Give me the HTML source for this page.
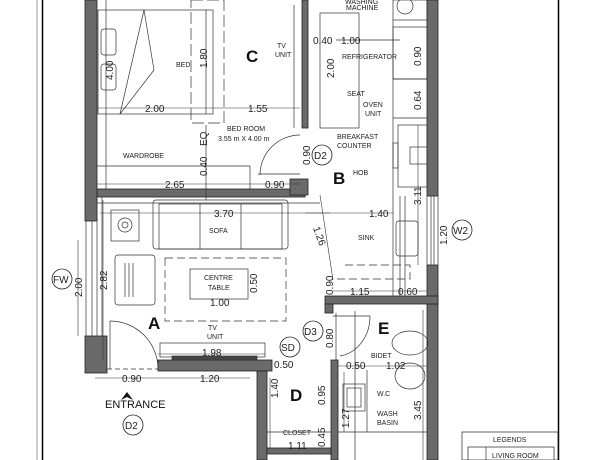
<!DOCTYPE html>
<html><head><meta charset="utf-8"><style>
body{margin:0;background:#fff;}
svg{display:block;font-family:"Liberation Sans",sans-serif;}
.t{font-size:7px;fill:#222}
.d{font-size:10px;fill:#222}
.b{font-size:17px;font-weight:bold;fill:#111}
</style></head><body>
<svg width="600" height="460" viewBox="0 0 600 460" xmlns="http://www.w3.org/2000/svg">
<g stroke="#000" fill="none">
<line x1="37" y1="0" x2="37" y2="460" stroke="#999" stroke-width="1"/>
<line x1="42.5" y1="0" x2="42.5" y2="460" stroke-width="1.5"/>
<line x1="558.5" y1="0" x2="558.5" y2="460" stroke-width="1.5"/>
</g>
<g fill="#6a6a6a" stroke="#222" stroke-width="0.8">
<rect x="85" y="0" width="12" height="221"/>
<rect x="97" y="189" width="208" height="8"/>
<rect x="302" y="0" width="6" height="128"/>
<rect x="427" y="0" width="11" height="196"/>
<rect x="427" y="265" width="11" height="195"/>
<rect x="85" y="336" width="22" height="37"/>
<rect x="158" y="360" width="114" height="11"/>
<rect x="257" y="371" width="10" height="89"/>
<rect x="325" y="296" width="113" height="8"/>
<rect x="325" y="304" width="8" height="9"/>
<rect x="331" y="360" width="7" height="100"/>
<rect x="267" y="448" width="64" height="6"/>
<rect x="290" y="179" width="18" height="16"/>
</g>
<g stroke="#333" fill="none" stroke-width="0.7">
<line x1="86" y1="221" x2="86" y2="336"/><line x1="92" y1="221" x2="92" y2="336"/><line x1="97" y1="197" x2="97" y2="336"/><line x1="102" y1="197" x2="102" y2="336"/>
<line x1="427" y1="196" x2="427" y2="265"/><line x1="431" y1="196" x2="431" y2="265"/><line x1="434" y1="196" x2="434" y2="265"/><line x1="438" y1="196" x2="438" y2="265"/>
<line x1="400" y1="196" x2="400" y2="296"/><line x1="405" y1="196" x2="405" y2="296"/>
<rect x="98" y="10" width="115" height="104"/>
<line x1="144" y1="10" x2="120" y2="114"/><line x1="120" y1="114" x2="154" y2="70"/><line x1="154" y1="70" x2="144" y2="10"/>
<rect x="101" y="29" width="15" height="26" rx="3"/><rect x="101" y="64" width="15" height="26" rx="3"/>
<rect x="191" y="0" width="33" height="123" stroke-dasharray="12,4"/>
<line x1="206" y1="10" x2="206" y2="114"/>
<line x1="106" y1="0" x2="106" y2="189"/>
<line x1="97" y1="166" x2="250" y2="166"/><line x1="250" y1="166" x2="250" y2="189"/>
<line x1="206" y1="125" x2="206" y2="200"/>
<line x1="294" y1="5" x2="294" y2="128"/>
<path d="M260 175 A40 40 0 0 1 300 135"/>
<line x1="258" y1="174" x2="300" y2="174"/>
<rect x="320" y="13" width="39" height="115"/>
<line x1="336" y1="40" x2="400" y2="40"/>
<rect x="393" y="0" width="34" height="20"/><circle cx="405" cy="6" r="8"/>
<rect x="393" y="27" width="34" height="52"/><line x1="393" y1="79" x2="427" y2="79"/>
<line x1="393" y1="118" x2="427" y2="118"/>
<rect x="398" y="125" width="29" height="62"/><rect x="410" y="147" width="17" height="17"/>
<rect x="393" y="143" width="5" height="25"/>
<line x1="393" y1="20" x2="393" y2="296"/>
<rect x="396" y="221" width="22" height="35" rx="3"/>
<path d="M345 265 L410 265 L410 279 L333 279" stroke-dasharray="8,4"/>
<rect x="153" y="200" width="135" height="49" rx="3"/>
<rect x="159" y="204" width="123" height="45"/>
<line x1="200" y1="204" x2="200" y2="249"/><line x1="241" y1="204" x2="241" y2="249"/>
<rect x="111" y="210" width="28" height="31"/><circle cx="125" cy="225" r="7"/><circle cx="125" cy="225" r="3"/>
<rect x="115" y="255" width="40" height="50" rx="3"/><line x1="125" y1="263" x2="125" y2="297"/><line x1="129" y1="263" x2="129" y2="297"/><line x1="133" y1="263" x2="133" y2="297"/>
<rect x="165" y="258" width="121" height="63" stroke-dasharray="8,4"/>
<rect x="190" y="269" width="58" height="30"/>
<line x1="97" y1="203" x2="320" y2="203"/>
<path d="M110 321 A48 48 0 0 1 158 369"/><line x1="110" y1="321" x2="110" y2="369"/>
<line x1="107" y1="369" x2="158" y2="369" stroke-dasharray="5,3"/>
<rect x="160" y="343" width="105" height="14"/>
<rect x="172" y="356" width="85" height="4" fill="#444"/>
<path d="M333 316 L370 316 A35 40 0 0 1 340 356"/>
<line x1="336" y1="313" x2="336" y2="360"/>
<ellipse cx="410" cy="343" rx="18" ry="12"/><ellipse cx="410" cy="376" rx="15" ry="13"/>
<rect x="343" y="384" width="22" height="27"/><rect x="347" y="388" width="14" height="19"/>
<line x1="338" y1="432" x2="427" y2="432"/><line x1="367" y1="370" x2="367" y2="432"/>
<line x1="267" y1="432" x2="331" y2="432"/>
<line x1="355" y1="311" x2="355" y2="460"/>
<rect x="462" y="432" width="96" height="28" stroke="#222"/>
<rect x="468" y="447" width="86" height="14" stroke="#222"/>
<line x1="486" y1="447" x2="486" y2="460"/>
</g>
<g stroke="#333" stroke-width="0.6" fill="none">
<line x1="97" y1="108" x2="300" y2="108"/>
<line x1="97" y1="184" x2="300" y2="184"/>
<line x1="100" y1="213" x2="330" y2="213"/>
<line x1="305" y1="213" x2="393" y2="213"/>
<line x1="333" y1="291" x2="427" y2="291"/>
<line x1="158" y1="354" x2="265" y2="354"/>
<line x1="95" y1="378" x2="250" y2="378"/>
<line x1="338" y1="366" x2="427" y2="366"/>
<line x1="78" y1="240" x2="78" y2="336"/>
<line x1="103" y1="200" x2="103" y2="360"/>
<line x1="344" y1="372" x2="344" y2="432"/>
<line x1="423" y1="310" x2="423" y2="460"/>
<line x1="418" y1="125" x2="418" y2="265"/>
<line x1="270" y1="378" x2="270" y2="448"/>
<line x1="320" y1="195" x2="333" y2="280"/>
</g>
<text class="b" x="246" y="62">C</text>
<text class="b" x="333" y="184">B</text>
<text class="b" x="148" y="329">A</text>
<text class="b" x="290" y="401">D</text>
<text class="b" x="378" y="334">E</text>
<text class="t" x="176" y="67">BED</text>
<text class="t" x="277" y="48">TV</text><text class="t" x="275" y="57">UNIT</text>
<text class="t" x="227" y="131">BED ROOM</text><text class="t" x="218" y="141">3.55 m X 4.00 m</text>
<text class="t" x="123" y="158">WARDROBE</text>
<text class="t" x="209" y="233">SOFA</text>
<text class="t" x="204" y="280">CENTRE</text><text class="t" x="208" y="290">TABLE</text>
<text class="t" x="208" y="330">TV</text><text class="t" x="207" y="339">UNIT</text>
<text class="t" x="345" y="4">WASHING</text><text class="t" x="346" y="10">MACHINE</text>
<text class="t" x="342" y="59">REFRIGERATOR</text>
<text class="t" x="347" y="96">SEAT</text>
<text class="t" x="363" y="107">OVEN</text><text class="t" x="365" y="116">UNIT</text>
<text class="t" x="337" y="139">BREAKFAST</text><text class="t" x="337" y="148">COUNTER</text>
<text class="t" x="353" y="175">HOB</text>
<text class="t" x="358" y="240">SINK</text>
<text class="t" x="371" y="358">BIDET</text>
<text class="t" x="377" y="396">W.C</text>
<text class="t" x="377" y="416">WASH</text><text class="t" x="377" y="425">BASIN</text>
<text class="t" x="283" y="435">CLOSET</text>
<text class="t" x="493" y="442">LEGENDS</text>
<text class="t" x="492" y="458">LIVING ROOM</text>
<text x="105" y="408" style="font-size:11px;fill:#111">ENTRANCE</text>
<path d="M127 392 L133 400 L127 397 L121 400 Z" fill="#111"/>
<g class="d">
<text x="145" y="112">2.00</text><text x="248" y="112">1.55</text>
<text x="165" y="188">2.65</text><text x="265" y="188">0.90</text>
<text x="214" y="217">3.70</text><text x="369" y="217">1.40</text>
<text x="210" y="306">1.00</text><text x="202" y="356">1.98</text>
<text x="122" y="382">0.90</text><text x="200" y="382">1.20</text>
<text x="341" y="44">1.00</text><text x="313" y="44">0.40</text>
<text x="350" y="295">1.15</text><text x="398" y="295">0.60</text>
<text x="346" y="369">0.50</text><text x="386" y="369">1.02</text>
<text x="274" y="368">0.50</text><text x="288" y="449">1.11</text>
</g>
<g class="d">
<text transform="translate(207,68) rotate(-90)">1.80</text>
<text transform="translate(113,80) rotate(-90)">4.00</text>
<text transform="translate(207,146) rotate(-90)">EQ</text>
<text transform="translate(207,176) rotate(-90)">0.40</text>
<text transform="translate(334,78) rotate(-90)">2.00</text>
<text transform="translate(421,66) rotate(-90)">0.90</text>
<text transform="translate(421,110) rotate(-90)">0.64</text>
<text transform="translate(421,205) rotate(-90)">3.11</text>
<text transform="translate(447,245) rotate(-90)">1.20</text>
<text transform="translate(310,165) rotate(-90)">0.90</text>
<text transform="translate(82,297) rotate(-90)">2.00</text>
<text transform="translate(107,290) rotate(-90)">2.82</text>
<text transform="translate(257,293) rotate(-90)">0.50</text>
<text transform="translate(333,348) rotate(-90)">0.80</text>
<text transform="translate(333,295) rotate(-90)">0.90</text>
<text transform="translate(278,398) rotate(-90)">1.40</text>
<text transform="translate(325,405) rotate(-90)">0.95</text>
<text transform="translate(325,447) rotate(-90)">0.45</text>
<text transform="translate(349,428) rotate(-90)">1.27</text>
<text transform="translate(421,420) rotate(-90)">3.45</text>
<text transform="translate(313,228) rotate(70)">1.26</text>
</g>
<g stroke="#222" fill="none" stroke-width="0.8">
<circle cx="322" cy="155" r="10"/><circle cx="62" cy="279" r="10"/><circle cx="462" cy="230" r="10"/>
<circle cx="133" cy="425" r="10"/><circle cx="290" cy="347" r="10"/><circle cx="313" cy="331" r="10"/>
</g>
<g class="d">
<text x="314" y="159">D2</text><text x="53" y="283">FW</text><text x="453" y="234">W2</text>
<text x="125" y="429">D2</text><text x="281" y="351">SD</text><text x="304" y="335">D3</text>
</g>
</svg>
</body></html>
